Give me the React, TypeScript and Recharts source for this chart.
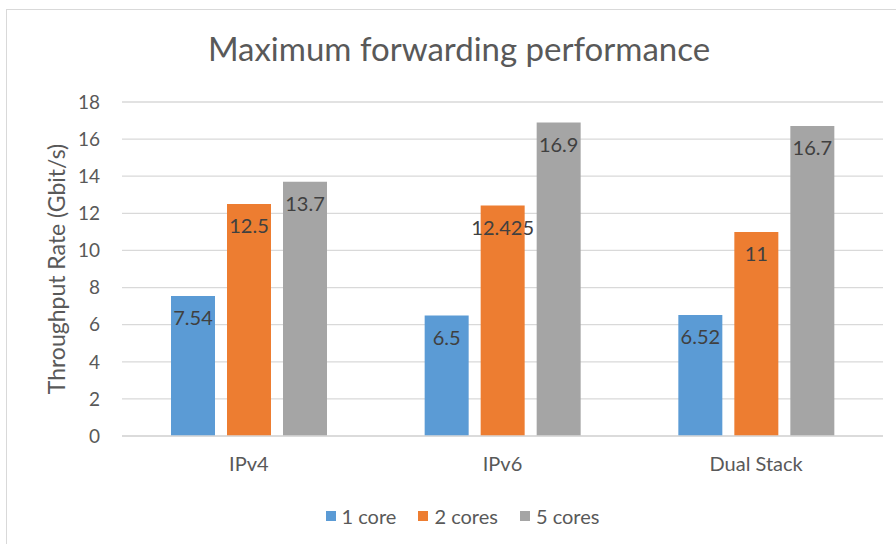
import React from "react";
import { BarChart, Bar, XAxis, YAxis, CartesianGrid, Legend, LabelList } from "recharts";

const categories = ["IPv4", "IPv6", "Dual Stack"];
const oneCore = [7.54, 6.5, 6.52];
const twoCores = [12.5, 12.425, 11];
const fiveCores = [13.7, 16.9, 16.7];
const yTicks = [0, 2, 4, 6, 8, 10, 12, 14, 16, 18];
const seriesNames = ["1 core", "2 cores", "5 cores"];
const colors = ["#5B9BD5", "#ED7D31", "#A5A5A5"];

const data = categories.map((c, i) => ({
  name: c,
  s1: oneCore[i],
  s2: twoCores[i],
  s3: fiveCores[i],
}));

const FONT = "Lato, 'Open Sans', sans-serif";

const renderLegend = () => (
  <div
    style={{
      display: "flex",
      justifyContent: "center",
      alignItems: "center",
      height: 48,
      paddingBottom: 8,
      paddingLeft: 42,
      boxSizing: "border-box",
      fontFamily: FONT,
      fontSize: 20,
      color: "#595959",
    }}
  >
    {seriesNames.map((n, i) => (
      <div key={n} style={{ display: "flex", alignItems: "center", marginLeft: i ? 22 : 0 }}>
        <div style={{ width: 10, height: 10, background: colors[i], marginRight: 6 }} />
        <span>{n}</span>
      </div>
    ))}
  </div>
);

export default function App() {
  return (
    <div style={{ position: "absolute", left: 0, top: 0, width: 896, height: 544, background: "#fff" }}>
      <div
        style={{
          position: "absolute",
          left: 6,
          top: 9,
          width: 890,
          height: 535,
          borderTop: "1.5px solid #d9d9d9",
          borderLeft: "1.5px solid #d9d9d9",
          boxSizing: "border-box",
        }}
      />
      <div
        style={{
          position: "absolute",
          left: 0,
          top: 28,
          width: 918,
          textAlign: "center",
          fontFamily: FONT,
          fontSize: 33,
          color: "#595959",
        }}
      >
        Maximum forwarding performance
      </div>
      <div style={{ position: "absolute", left: 0, top: 0 }}>
        <BarChart
          width={896}
          height={544}
          data={data}
          margin={{ top: 102, right: 13, left: 0, bottom: 0 }}
          barSize={44}
          barGap={12}
        >
          <CartesianGrid vertical={false} stroke="#d9d9d9" strokeWidth={1.3} />
          <XAxis
            dataKey="name"
            height={60}
            tickLine={false}
            axisLine={{ stroke: "#d9d9d9", strokeWidth: 1.3 }}
            tickMargin={15}
            tick={{ fill: "#595959", fontSize: 20, fontFamily: FONT }}
          />
          <YAxis
            width={122}
            domain={[0, 18]}
            ticks={yTicks}
            interval={0}
            tickLine={false}
            axisLine={false}
            tickMargin={16}
            tick={{ fill: "#595959", fontSize: 19, fontFamily: FONT }}
            label={{
              value: "Throughput Rate (Gbit/s)",
              angle: -90,
              position: "insideLeft",
              offset: 0,
              dx: 57,
              dy: 0,
              style: { fill: "#595959", fontSize: 23, fontFamily: FONT, textAnchor: "middle" },
            }}
          />
          <Legend verticalAlign="bottom" content={renderLegend} wrapperStyle={{ height: 48 }} />
          {["s1", "s2", "s3"].map((k, i) => (
            <Bar key={k} dataKey={k} name={seriesNames[i]} fill={colors[i]} isAnimationActive={false}>
              <LabelList
                dataKey={k}
                position="insideTop"
                offset={15}
                style={{ fill: "#404040", fontSize: 20, fontFamily: FONT }}
              />
            </Bar>
          ))}
        </BarChart>
      </div>
    </div>
  );
}
